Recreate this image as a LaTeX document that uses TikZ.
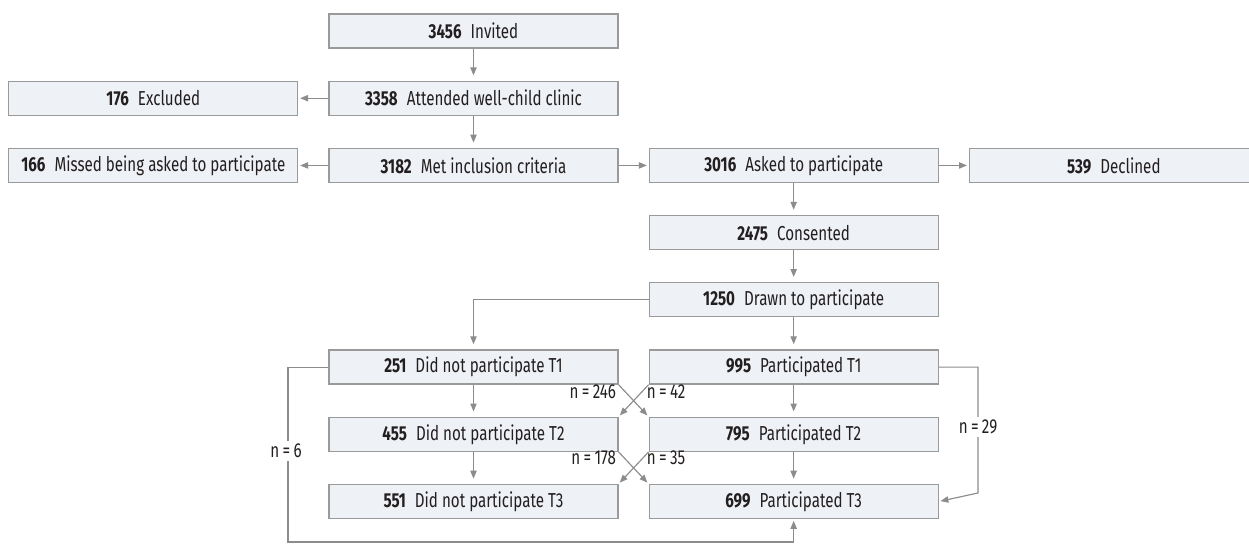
\documentclass[tikz,border=0pt]{standalone}
\usepackage{fontspec}
\setmainfont{Fira Sans}[FakeStretch=0.75]
\usepackage{tikz}
\usetikzlibrary{arrows.meta, positioning}
\definecolor{jBoxFill}{HTML}{EEF1F5}
\definecolor{jBoxLine}{HTML}{9A9A9A}
\definecolor{jLine}{HTML}{8C8C8C}
\definecolor{jText}{HTML}{231F20}
\newcommand{\flowtxt}[2]{\textbf{#1}\hspace{0.45em}#2}

\begin{document}
\begin{tikzpicture}[
    x=0.02cm, y=-0.02cm,
    node distance=0.64cm and 0.6cm,
    box/.style={draw=jBoxLine, fill=jBoxFill, line width=0.7pt, text=jText,
                minimum width=5.78cm, minimum height=0.68cm, inner sep=0pt,
                font=\fontsize{11.5}{13}\selectfont},
    link/.style={draw=jLine, line width=0.65pt, -{Triangle[length=4.5pt, width=3.6pt]},
                 shorten >=1pt},
    down/.style={link, shorten >=3pt},
    ann/.style={fill=white, text=jText, inner sep=1.5pt,
                font=\fontsize{11.5}{13}\selectfont},
  ]
    \useasboundingbox (0,0) rectangle (1249,559);

    % recruitment
    \node[box] (inv) at (473.5,31) {\flowtxt{3456}{Invited}};
    \node[box, below=of inv] (att) {\flowtxt{3358}{Attended well-child clinic}};
    \node[box, left=of att] (exc) {\flowtxt{176}{Excluded}};
    \node[box, below=of att] (met) {\flowtxt{3182}{Met inclusion criteria}};
    \node[box, left=of met] (miss) {\flowtxt{166}{Missed being asked to participate}};
    \node[box, right=of met] (ask) {\flowtxt{3016}{Asked to participate}};
    \node[box, right=of ask] (decl) {\flowtxt{539}{Declined}};
    \node[box, below=of ask] (cons) {\flowtxt{2475}{Consented}};
    \node[box, below=of cons] (drawn) {\flowtxt{1250}{Drawn to participate}};

    % follow-up
    \node[box, below=of drawn] (p1) {\flowtxt{995}{Participated T1}};
    \node[box, below=of p1] (p2) {\flowtxt{795}{Participated T2}};
    \node[box, below=of p2] (p3) {\flowtxt{699}{Participated T3}};
    \node[box, left=of p1] (nt1) {\flowtxt{251}{Did not participate T1}};
    \node[box, left=of p2] (nt2) {\flowtxt{455}{Did not participate T2}};
    \node[box, left=of p3] (nt3) {\flowtxt{551}{Did not participate T3}};

    \draw[down] (inv) -- (att);
    \draw[link] (att) -- (exc);
    \draw[down] (att) -- (met);
    \draw[link] (met) -- (miss);
    \draw[link] (met) -- (ask);
    \draw[link] (ask) -- (decl);
    \draw[down] (ask) -- (cons);
    \draw[down] (cons) -- (drawn);
    \draw[down] (drawn) -- (p1);
    \draw[down] (drawn.west) -| (nt1.north);
    \draw[down] (p1) -- (p2);
    \draw[down] (p2) -- (p3);
    \draw[down] (nt1) -- (nt2);
    \draw[down] (nt2) -- (nt3);

    % crossings
    \draw[link] (nt1.south east) -- (p2.north west);
    \draw[link] (p1.south west) -- (nt2.north east);
    \draw[link] (nt2.south east) -- (p3.north west);
    \draw[link] (p2.south west) -- (nt3.north east);
    \node[ann, fill=none, anchor=east] (n246) at (619,392) {n\,=\,246};
    \node[ann, fill=none, anchor=west] (n42) at (644,392) {n\,=\,42};
    \node[ann, fill=none, anchor=east] (n178) at (619,458) {n\,=\,178};
    \node[ann, fill=none, anchor=west] (n35) at (644,458) {n\,=\,35};

    % skipped T2
    \coordinate (c6) at (288,542);
    \coordinate (c29) at (978,493);
    \draw[link] (nt1.west) -| (c6) -| (p3.south);
    \draw[link] (p1.east) -| (c29) -- (p3.east);
    \node[ann] (n6) at (286,451) {n\,=\,6};
    \node[ann] (n29) at (978,427) {n\,=\,29};
  \end{tikzpicture}
\end{document}
